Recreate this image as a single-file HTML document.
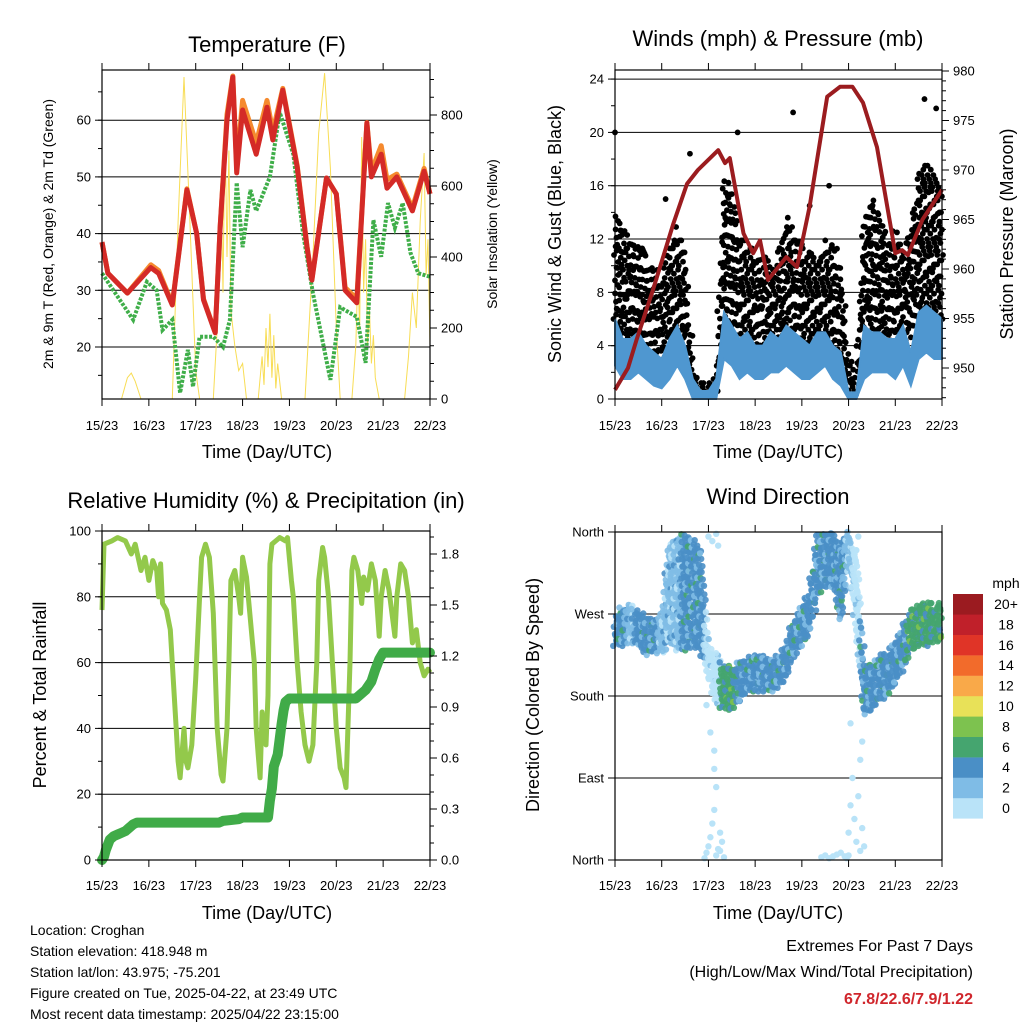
<!DOCTYPE html>
<html><head><meta charset="utf-8"><style>
html,body{margin:0;padding:0;background:#fff;}
svg{display:block;font-family:"Liberation Sans",sans-serif;}
</style></head><body>
<svg id="c" width="1024" height="1024" viewBox="0 0 1024 1024" xmlns="http://www.w3.org/2000/svg">
<g id="g"></g>
<text x="267" y="52" font-size="22" text-anchor="middle">Temperature (F)</text>
<text x="778" y="46" font-size="22" text-anchor="middle">Winds (mph) &amp; Pressure (mb)</text>
<text x="266" y="508" font-size="22" text-anchor="middle">Relative Humidity (%) &amp; Precipitation (in)</text>
<text x="778" y="504" font-size="22" text-anchor="middle">Wind Direction</text>
<text x="267" y="458" font-size="18" text-anchor="middle">Time (Day/UTC)</text>
<text x="778" y="458" font-size="18" text-anchor="middle">Time (Day/UTC)</text>
<text x="267" y="919" font-size="18" text-anchor="middle">Time (Day/UTC)</text>
<text x="778" y="919" font-size="18" text-anchor="middle">Time (Day/UTC)</text>
<text transform="translate(53,234) rotate(-90)" font-size="14" text-anchor="middle">2m &amp; 9m T (Red, Orange) &amp; 2m Td (Green)</text>
<text transform="translate(497,234) rotate(-90)" font-size="14" text-anchor="middle">Solar Insolation (Yellow)</text>
<text transform="translate(561,234) rotate(-90)" font-size="18" text-anchor="middle">Sonic Wind &amp; Gust (Blue, Black)</text>
<text transform="translate(1013,234) rotate(-90)" font-size="18" text-anchor="middle">Station Pressure (Maroon)</text>
<text transform="translate(46,695) rotate(-90)" font-size="18" text-anchor="middle">Percent &amp; Total Rainfall</text>
<text transform="translate(539,695) rotate(-90)" font-size="18" text-anchor="middle">Direction (Colored By Speed)</text>
<g font-size="14">
<text x="30" y="935">Location: Croghan</text>
<text x="30" y="956">Station elevation: 418.948 m</text>
<text x="30" y="977">Station lat/lon: 43.975; -75.201</text>
<text x="30" y="998">Figure created on Tue, 2025-04-22, at 23:49 UTC</text>
<text x="30" y="1019">Most recent data timestamp: 2025/04/22 23:15:00</text>
</g>
<g font-size="16" text-anchor="end">
<text x="973" y="951">Extremes For Past 7 Days</text>
<text x="973" y="977">(High/Low/Max Wind/Total Precipitation)</text>
<text x="973" y="1004" font-weight="bold" fill="#d0262c">67.8/22.6/7.9/1.22</text>
</g>
</svg>
<script>
const dayLabels=["15/23","16/23","17/23","18/23","19/23","20/23","21/23","22/23"];
const tHours=[0,3,13,25,29,36,43.5,48.5,52,58,60.5,64,67,69,72,79,84.5,87.5,92.6,100,105,107.5,115,120,124.5,130.5,135.7,138,143,146,151,159,165,168];
const tRed=[38.5,33,29.5,34,33,27.4,47.7,40,28.3,22.5,41,60,67.6,50.7,61.8,54,62.3,56.5,65.3,51.7,37.6,31.8,49.8,47,30,27.8,59.5,50,54,48,50,44,51,47];
const tOrange=[38.5,33,29.5,34.5,33.5,27.6,47.9,40,28.5,22.6,41,61,67.8,52,63.5,56,63.5,58,65.6,52,37.8,32,49.8,47,30.5,28.5,59.6,51,55.5,49.5,50.5,44.5,51.5,47];
const tdHours=[0,16,23,28,31,36,40,44,46.6,50,57,62,65.5,69,72,76,79,86,91,98,103,108,117,122,130.5,135,139,143,146.5,150,154,158,162,168];
const tDew=[33,24.8,31.5,30,23,24.8,11.9,19.5,13,21.8,21.8,20,24.8,49,37.6,47.7,44,50,61.4,54,40,29.5,14.2,27,25.3,17.2,42.4,35.9,45.4,41,45.4,36.6,33,32.4];
const sHours=[0,10,13,15,17,20,36,39,42,45,48,50,57,59,61,62,63,64,65,66,68,70,72,74,80,82,83,84,85,86,87,88,89,90,92,104,108,111,114,117,120,122,128,130,131,132,133,134,135,136,137,138,139,140,142,155,157,159,161,163,165,166,167,168];
const sVal=[0,0,60,73,50,0,0,500,907,500,80,0,0,200,620,300,780,400,700,250,150,80,100,0,0,120,40,200,90,240,60,180,30,100,0,0,400,750,918,650,200,0,0,150,350,200,738,300,450,150,250,100,180,60,0,0,120,300,200,500,693,350,450,150];
const hrs4=[0,4,8,12,16,20,24,28,32,36,40,44,48,52,56,60,64,68,72,76,80,84,88,92,96,100,104,108,112,116,120,124,128,132,136,140,144,148,152,156,160,164,168];
const windLo=[2.5,1.5,1.5,2,1.5,1,0.8,1.5,2.5,1.5,0,0,0,0,3,2.5,1.5,2,1.5,1.5,2,2,2.5,2,1.5,1.5,2,2.5,1.5,1,0,0,1.5,2,2,2,1.5,2.5,1,3,3.5,3,3];
const windHi=[6,4.5,4.5,5,4,3.5,3,4.5,5.5,4,1.5,0.6,0.6,1.5,6.5,5.5,4.5,5,4,4,5,4.5,5.5,5,4.5,4,5,5,4,3.5,0.5,0.5,5.5,5,5,4.5,4.5,5.5,3.5,6.5,7,6.5,6];
const gustHi=[14,13,12,12,11,10,9,12,13,11,3,1.2,1.2,2,17,16,12,12,11,11,10,11,14,12,12,11,11,12,12,10,3,2.5,14,15,14,12,13,11,13,17,18,17,16];
const gustLo=[6,4,4,3,2,1.5,1,3,3,3,0.3,0.3,0.3,0.3,5,4,3,3,3,2.5,3,3,4,4,3,3,3,3,3,2,0.3,0.3,3,4,3,4,3,3,5,6,6,6,6];
const gustOutH=[0,38.5,63,91.5,159,165,26,100,110];
const gustOutV=[20,18.4,20,21.5,22.5,21.8,15,14.5,16];
const pHours=[0,6.7,11,19.5,30,37,42.6,53,56.5,59,66,71,74.5,78.6,88,93.5,100,109,115.6,122,127.4,134.6,144,147.5,150.5,158,167,168];
const pVal=[947.8,950,952.8,957.9,964.6,968.6,970,972,970.7,971.2,963.6,961.6,962.9,958.9,961.2,960.2,966.3,977.4,978.4,978.4,976.8,972.3,961.6,961.9,961.4,965,967.7,968];
const rhHours=[0,1,5,8,12,15,17,20,22,24,26,28,29,30,31,33,35,38,39,40,42,43,44,46,48,50,51,53,55,57,59,61,62,64,65,66,68,70,71,72,74,76,78,79,80,81,82,84,85,86,87,89,91,94,95,97,98,100,102,104,106,108,110,111,113,114,116,118,120,122,124,125,127,128,129,131,133,134,136,138,140,142,143,145,147,150,151,153,155,157,159,161,163,165,167,168];
const rhVal=[76,96,97,98,97,93,96,88,92,85,91,88,80,90,78,76,70,40,30,25,40,30,28,35,55,80,92,96,92,75,40,26,24,40,60,85,88,80,75,92,86,73,60,40,32,25,45,35,50,90,96,97,98,97,98,85,80,60,45,35,30,35,60,85,95,92,80,60,40,28,25,22,60,88,92,88,78,86,82,90,85,68,80,88,82,68,80,90,88,80,66,70,60,56,58,57];
const prHours=[0,1,2,4,6,8,10,12,14,16,18,60,62,70,72,85,86,87,88,90,92,93,94,96,130,132,135,138,140,142,144,168];
const prVal=[0,0.02,0.06,0.12,0.14,0.15,0.16,0.17,0.19,0.21,0.22,0.22,0.23,0.24,0.25,0.25,0.35,0.42,0.55,0.62,0.8,0.88,0.93,0.95,0.95,0.97,1.0,1.05,1.12,1.18,1.22,1.22];
const dirLo=[235,235,240,235,225,230,225,240,230,230,235,230,200,170,165,165,175,185,185,185,185,190,200,225,235,250,290,300,300,260,330,250,160,165,175,180,195,210,230,235,235,240,240];
const dirHi=[265,280,280,275,265,265,270,350,355,360,355,340,235,230,215,210,220,225,225,225,220,225,240,265,280,300,360,360,360,350,360,340,215,215,225,230,240,260,275,280,285,280,285];
const dirSpd=[4,3,2,3,4,3,2,2,2,3,4,4,0,0,5,6,4,4,4,3,4,4,4,4,4,3,4,4,3,4,1,0,4,4,4,4,4,4,5,6,6,5,5];
const lightH=[46,47,48,49,50,51,52,53,54,55,48,50,52,53,51,49,47,48,49,50,51,52,54,56,106,108,110,112,114,116,118,120,121,122,123,124,125,126,127,128,125,124,123,122,121,126,127,119,120,124,126];
const lightD=[2,8,15,25,40,55,5,12,30,20,355,350,358,345,120,140,170,200,215,190,100,80,10,3,3,5,2,4,6,8,4,30,60,90,45,20,70,10,35,15,355,340,320,300,150,110,130,2,5,240,260];
const spdLabels=["0","2","4","6","8","10","12","14","16","18","20+"];
const spdColors=["#b9e3f8","#7fbce6","#4a8fc6","#45a56f","#7dc24f","#e8e158","#f9a949","#f26b2b","#e03427","#c0202a","#9b1b20"];

const NS="http://www.w3.org/2000/svg";
const G=document.getElementById('g');
function el(tag,attrs,parent){const e=document.createElementNS(NS,tag);for(const k in attrs)e.setAttribute(k,attrs[k]);(parent||G).appendChild(e);return e;}
function interp(hs,vs,h){if(h<=hs[0])return vs[0];for(let i=1;i<hs.length;i++){if(h<=hs[i]){const t=(h-hs[i-1])/(hs[i]-hs[i-1]);return vs[i-1]+t*(vs[i]-vs[i-1]);}}return vs[vs.length-1];}
function pts(hs,vs,X,Y){return hs.map((h,i)=>X(h).toFixed(1)+","+Y(vs[i]).toFixed(1)).join(" ");}

function panel(name,x0,x1,y0,y1){
  const X=h=>x0+(x1-x0)*h/168;
  const g=el('g',{});
  
  
  return {X,g,x0,x1,y0,y1};
}
function frame(p,prefix,botLabelY){
  const f=el('rect',{x:p.x0,y:p.y0,width:p.x1-p.x0,height:p.y1-p.y0,fill:'none',stroke:'#000','stroke-width':1.2},p.g);
  
  
  dayLabels.forEach((d,i)=>{
    const x=p.X(i*24);
    el('line',{x1:x,x2:x,y1:p.y0-7,y2:p.y0,stroke:'#000'},p.g);
    el('line',{x1:x,x2:x,y1:p.y1,y2:p.y1+7,stroke:'#000'},p.g);
    const t=el('text',{x:x,y:botLabelY,'font-size':13,'text-anchor':'middle'},p.g);
    t.textContent=d;
    
    
  });
}
function yAxis(p,side,Y,majors,labels,minors,prefix){
  const x=side==='L'?p.x0:p.x1, dir=side==='L'?-1:1;
  minors.forEach(v=>{const y=Y(v);el('line',{x1:x,x2:x+dir*4,y1:y,y2:y,stroke:'#000'},p.g);});
  majors.forEach((v,i)=>{const y=Y(v);el('line',{x1:x,x2:x+dir*7,y1:y,y2:y,stroke:'#000'},p.g);
    const t=el('text',{x:x+dir*11,y:y+4.5,'font-size':13,'text-anchor':side==='L'?'end':'start'},p.g);
    t.textContent=labels[i];
    
    });
}
function grid(p,ys){ys.forEach(y=>el('line',{x1:p.x0,x2:p.x1,y1:y,y2:y,stroke:'#000','stroke-width':1},p.g));}
function range(a,b,s){const r=[];for(let v=a;v<=b+1e-9;v+=s)r.push(+v.toFixed(3));return r;}

// ---- Temperature panel
const P1=panel('temperature-chart',102,430,70,399);
const YT=v=>347-(v-20)*5.67, YS=v=>399-v*0.355;
grid(P1,[20,30,40,50,60].map(YT));
let e=el('polyline',{points:pts(sHours,sVal,P1.X,YS),fill:'none',stroke:'#f8dd55','stroke-width':1},P1.g);

e=el('polyline',{points:pts(tdHours,tDew,P1.X,YT),fill:'none',stroke:'#3fae49','stroke-width':4,'stroke-dasharray':'3 1.5'},P1.g);

e=el('polyline',{points:pts(tHours,tOrange,P1.X,YT),fill:'none',stroke:'#f58a2e','stroke-width':5,'stroke-linejoin':'round'},P1.g);

e=el('polyline',{points:pts(tHours,tRed,P1.X,YT),fill:'none',stroke:'#d42a27','stroke-width':5,'stroke-linejoin':'round'},P1.g);

frame(P1,'temp',430);
yAxis(P1,'L',YT,[20,30,40,50,60],["20","30","40","50","60"],range(15,65,5),'temp-y');
yAxis(P1,'R',YS,[0,200,400,600,800],["0","200","400","600","800"],range(50,900,50),'solar-y');

// ---- Winds panel
const P2=panel('winds-chart',615,942,70,399);
const YW=v=>399-v*13.33, YP=v=>368-(v-950)*9.9;
grid(P2,[0,4,8,12,16,20,24].map(YW));
const gustG=el('g',{},P2.g);

for(let h=0,c=0;h<=168;h+=0.55,c++){
  const lo=interp(hrs4,gustLo,h),hi=interp(hrs4,gustHi,h);
  const off=((c*7)%5)*0.3;
  let j=0;
  for(let v=lo+off;v<=hi;v+=1.3+((c+j)%3)*0.3,j++){
    const dx=(((c*3+j*5)%7)-3)*0.5;
    el('circle',{cx:(P2.X(h)+dx).toFixed(1),cy:YW(v).toFixed(1),r:2.9,fill:'#000'},gustG);
  }
}
gustOutH.forEach((h,i)=>el('circle',{cx:P2.X(h),cy:YW(gustOutV[i]),r:2.9,fill:'#000'},gustG));
const bandPts=hrs4.map((h,i)=>P2.X(h)+","+YW(windHi[i])).concat(hrs4.slice().reverse().map((h,j)=>{const i=hrs4.length-1-j;return P2.X(h)+","+YW(windLo[i]);})).join(" ");
e=el('polygon',{points:bandPts,fill:'#4f97d0',stroke:'#4f97d0','stroke-width':2},P2.g);

e=el('polyline',{points:pts(pHours,pVal,P2.X,YP),fill:'none',stroke:'#9b1c1f','stroke-width':4,'stroke-linejoin':'round'},P2.g);

frame(P2,'winds',430);
yAxis(P2,'L',YW,[0,4,8,12,16,20,24],["0","4","8","12","16","20","24"],range(0,24,2),'wind-y');
yAxis(P2,'R',YP,[950,955,960,965,970,975,980],["950","955","960","965","970","975","980"],range(947,980,1),'pressure-y');

// ---- RH panel
const P3=panel('humidity-chart',102,430,531,860);
const YR=v=>860-v*3.29, YPr=v=>860-v*170;
grid(P3,[20,40,60,80].map(YR));
e=el('polyline',{points:pts(rhHours,rhVal,P3.X,YR),fill:'none',stroke:'#93c94b','stroke-width':5,'stroke-linejoin':'round'},P3.g);

e=el('polyline',{points:pts(prHours,prVal,P3.X,YPr),fill:'none',stroke:'#40ab48','stroke-width':10,'stroke-linejoin':'round','stroke-linecap':'round'},P3.g);

frame(P3,'rh',890);
yAxis(P3,'L',YR,[0,20,40,60,80,100],["0","20","40","60","80","100"],range(0,100,10),'rh-y');
yAxis(P3,'R',YPr,[0,0.3,0.6,0.9,1.2,1.5,1.8],["0.0","0.3","0.6","0.9","1.2","1.5","1.8"],range(0,1.9,0.1),'precip-y');

// ---- Direction panel
const P4=panel('wind-direction-chart',615,942,532,860);
const YD=v=>860-v*0.9111;
grid(P4,[90,180,270].map(YD));
const dirG=el('g',{},P4.g);

function spdColor(s){return spdColors[Math.min(10,Math.max(0,Math.round(s/2)))];}
lightH.forEach((h,i)=>el('circle',{cx:P4.X(h),cy:YD(lightD[i]),r:3.2,fill:spdColors[0]},dirG));
for(let h=0,c=0;h<=168;h+=0.8,c++){
  const lo=interp(hrs4,dirLo,h),hi=interp(hrs4,dirHi,h);
  const k=Math.min(hrs4.length-1,Math.round(h/4));
  const s=dirSpd[k];
  let j=0;
  for(let v=lo+((c*7)%4)*1.5;v<=hi;v+=6+((c+j)%3),j++){
    const sv=s+(((c+j)%5)===0?-2:0)+(((c*7+j)%11)===0?2:0);
    const dx=(((c*3+j*5)%7)-3)*0.6;
    el('circle',{cx:(P4.X(h)+dx).toFixed(1),cy:YD(v).toFixed(1),r:3.2,fill:spdColor(Math.max(0,sv)),'fill-opacity':0.9},dirG);
  }
}
frame(P4,'dir',890);
yAxis(P4,'L',YD,[0,90,180,270,360],["North","East","South","West","North"],[],'dir-y');

// colorbar
const cb=el('g',{});

spdColors.forEach((c,i)=>{
  const y=594+(10-i)*20.4;
  el('rect',{x:953,y:y,width:30,height:20.6,fill:c},cb);
  const t=el('text',{x:1006,y:y+15,'font-size':14,'text-anchor':'middle'},cb);
  t.textContent=spdLabels[i];
  
  
});
const mt=el('text',{x:1006,y:588,'font-size':14,'text-anchor':'middle'},cb);mt.textContent='mph';


</script>
</body></html>
